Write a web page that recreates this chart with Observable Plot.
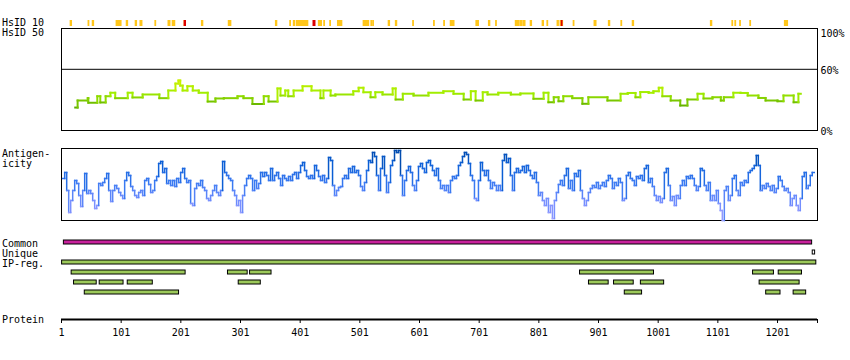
<!DOCTYPE html>
<html><head><meta charset="utf-8">
<script src="https://cdn.jsdelivr.net/npm/d3@7"></script>
<script src="https://cdn.jsdelivr.net/npm/@observablehq/plot@0.6"></script>
<style>
body{margin:0;background:#fff;}
#chart{position:relative;width:850px;height:360px;font-family:"DejaVu Sans Mono",monospace;font-size:10px;color:#000;}
.lbl{position:absolute;left:2px;line-height:9px;white-space:pre;}
</style></head>
<body><div id="chart"></div>
<script>
// ---------- data ----------
const proteinLength = 1268;
const axisTicks = [1,101,201,301,401,501,601,701,801,901,1001,1101,1201];

// HsID 10 hits (residue ranges)
const hsid10Hits = [[16,19],[46,48],[53,56],[93,102],[110,113],[125,128],[133,137],[158,160],[180,184],[187,192],[207,210],
  [236,239],[281,286],[360,363],[384,386],[390,393],[395,415],[432,438],[441,443],[451,453],[464,472],[507,517],[520,522],
  [523,525],[549,552],[561,564],[590,592],[625,627],[642,644],[653,660],[696,701],[717,720],[729,731],[762,769],[770,774],
  [775,779],[787,790],[807,810],[815,817],[832,835],[837,842],[859,861],[894,898],[918,921],[939,941],[958,961],
  [1089,1092],[1125,1127],[1130,1132],[1138,1140],[1155,1157],[1213,1219]];
const hsid10Strong = [[207,210],[423,427],[839,841]];

// HsID 50 identity (%) as steps: start residue -> value
const hsid50Pos = [24,28,45,46,61,66,75,83,91,112,120,137,165,180,192,197,200,204,212,221,231,246,259,273,296,306,321,340,348,
  363,368,376,381,390,405,420,435,440,452,460,490,499,507,519,527,539,556,561,573,591,616,641,658,675,687,695,707,715,733,
  754,770,792,809,817,826,834,842,857,874,884,916,938,950,963,971,985,993,1002,1008,1022,1038,1050,1067,1077,1092,1106,
  1111,1127,1139,1151,1169,1181,1201,1211,1228,1236];
const hsid50Val = [22.5,29.4,31.7,27.2,33.6,27.5,33.6,37,31.7,37,32.4,35.3,31.7,39.2,46,49,44,39.2,43.4,39.2,37,28.4,31.4,31.7,
  33.6,31.7,26,33.6,28.4,41.2,34.3,39.2,33.6,39.2,43.4,39.2,31.7,39.2,34.3,35.3,38.5,41.9,37.5,32.6,37.5,35.3,41.2,30.4,36,
  34.3,37,38.5,36,30.4,38.5,29.4,37.5,35.3,37,35.3,36.3,31.1,37,27.7,32.6,28.7,33.6,31.7,26.2,32.6,29.4,36,36.8,32.6,37.7,
  37,38.5,41.9,33.6,29.4,24.5,30.4,36,31.4,32.6,29.4,32.6,37,36.8,34.3,31.9,29.4,28.7,34.3,27.7,36];
const hsid50End = 1240;
const pctTicks = [60,0];
const pctTop = [100];

// Antigenicity profile, one value every antigenStep residues
const antigenStart = 3, antigenStep = 3.35;
const antigenVal = [
42,48,30,8,20,30,40,37,25,14, 30,47,27,30,27,20,12,15,37,35, 38,42,47,30,19,30,35,32,28,25,
22,40,48,45,34,30,25,23,28,30, 25,40,42,36,28,30,40,44,57,59, 48,52,37,40,35,40,34,42,38,48,
52,42,38,40,17,15,32,37,35,40, 33,30,22,20,25,30,35,28,25,30, 59,48,45,42,40,30,25,15,20,8,
25,35,42,45,42,30,40,32,37,48, 44,48,45,40,52,40,45,48,42,35, 45,42,40,44,40,46,48,42,48,55,
58,50,44,42,45,42,55,50,44,40, 45,38,42,63,60,35,25,30,33,34, 42,45,42,52,48,54,48,50,45,34,
30,38,50,60,58,68,64,45,30,52, 64,45,28,38,55,60,70,68,70,45, 25,40,50,54,48,35,30,40,54,57,
52,48,58,60,55,50,45,52,40,32, 35,30,35,28,40,44,42,45,55,58, 64,68,66,57,45,40,22,20,40,58,
50,45,50,40,32,38,35,30,35,30, 60,66,58,62,45,30,48,52,48,50, 54,48,55,50,45,42,48,38,25,28,
20,15,22,8,15,2,20,28,36,40, 35,45,52,32,40,30,47,44,50,30, 22,15,20,28,32,35,33,38,32,35,
38,34,40,45,42,32,38,35,42,38, 20,22,45,48,42,40,35,44,42,45, 40,52,55,38,42,34,25,20,24,18,
22,48,52,35,20,24,15,25,22,35, 40,35,44,42,45,42,35,30,34,52, 50,35,30,38,20,25,20,30,17,10,
0,30,34,20,25,42,45,30,25,38, 35,40,38,48,50,52,55,65,55,30, 35,32,37,34,30,35,28,32,44,40,
34,30,32,28,15,22,25,15,10,22, 44,48,32,35,45,48];

// Regions
const rowNames = ["Common","Unique","IP-reg.","r1","r2","r3"];
const commonRegion = [[5,1259]];
const uniqueRegion = [[1260,1264]];
const ipRegFull = [[2,1266]];
const ipRow1 = [[18,209],[280,313],[317,353],[870,994],[1160,1195],[1203,1242]];
const ipRow2 = [[22,60],[65,105],[112,154],[298,335],[885,918],[927,960],[972,1011],[1171,1238]];
const ipRow3 = [[40,198],[945,974],[1182,1206],[1228,1249]];

// ---------- drawing ----------
const W = 850, ML = 61, MR = 33;
const chart = document.getElementById("chart");
const baseStyle = {fontFamily: '"DejaVu Sans Mono", monospace', fontSize: "10px", background: "transparent", overflow: "visible"};
function place(node, top) { node.style.position = "absolute"; node.style.left = "0px"; node.style.top = top + "px"; chart.appendChild(node); }
function label(text, top) { const d = document.createElement("div"); d.className = "lbl"; d.textContent = text; d.style.top = top + "px"; chart.appendChild(d); }
function stepSegments(xs, vs, xEnd) {
  const segs = [];
  for (let i = 0; i < xs.length; i++) {
    const xn = i < xs.length - 1 ? xs[i + 1] : xEnd;
    segs.push({x1: xs[i], x2: xn, y1: vs[i], y2: vs[i], v: vs[i]});
    if (i < xs.length - 1) segs.push({x1: xn, x2: xn, y1: vs[i], y2: vs[i + 1], v: Math.max(vs[i], vs[i + 1])});
  }
  return segs;
}
const xScale = {domain: [1, proteinLength], axis: null};

// HsID 10 strip
place(Plot.plot({
  width: W, height: 6, marginLeft: ML, marginRight: MR, marginTop: 0, marginBottom: 0,
  x: xScale, style: baseStyle,
  marks: [
    Plot.barX(hsid10Hits, {x1: d => d[0] - 0.5, x2: d => d[1] + 0.5, fill: "#ffc61a"}),
    Plot.barX(hsid10Strong, {x1: d => d[0] - 0.5, x2: d => d[1] + 0.5, fill: "#dd0000"})
  ]
}), 19.5);

// HsID 50 panel
place(Plot.plot({
  width: W, height: 140, marginLeft: ML, marginRight: MR, marginTop: 28, marginBottom: 10,
  x: xScale, y: {domain: [0, 100], axis: null},
  color: {type: "linear", domain: [22, 30, 37, 49], range: ["#5aa800", "#7cc800", "#a2ee00", "#c8f000"]},
  style: baseStyle,
  marks: [
    Plot.frame({stroke: "black"}),
    Plot.ruleY([60], {stroke: "black"}),
    Plot.link(stepSegments(hsid50Pos, hsid50Val, hsid50End), {x1: "x1", x2: "x2", y1: "y1", y2: "y2", stroke: "v", strokeWidth: 2, strokeLinecap: "square"}),
    Plot.text(pctTicks, {y: d => d, text: d => d + "%", frameAnchor: "right", textAnchor: "start", dx: 3, dy: 1}),
    Plot.text(pctTop, {y: d => d, text: d => d + "%", frameAnchor: "right", textAnchor: "start", dx: 3, dy: 5})
  ]
}), 0);

// Antigenicity panel
const antigenPos = antigenVal.map((_, i) => antigenStart + i * antigenStep);
place(Plot.plot({
  width: W, height: 88, marginLeft: ML, marginRight: MR, marginTop: 8, marginBottom: 8,
  x: xScale, y: {domain: [0, 72], axis: null},
  color: {type: "linear", domain: [0, 20, 40, 60, 72], range: ["#a8a4ff", "#7a90ff", "#3a7af2", "#0a5ed4", "#0048a8"]},
  style: baseStyle,
  marks: [
    Plot.frame({stroke: "black"}),
    Plot.link(stepSegments(antigenPos, antigenVal, antigenPos[antigenPos.length - 1] + antigenStep), {x1: "x1", x2: "x2", y1: "y1", y2: "y2", stroke: "v", strokeWidth: 1.5, strokeLinecap: "square"})
  ]
}), 140);

// Regions
const regionRows = [];
commonRegion.forEach(r => regionRows.push({row: "Common", s: r[0], e: r[1], fill: "#c8219c"}));
uniqueRegion.forEach(r => regionRows.push({row: "Unique", s: r[0], e: r[1], fill: "#ffffff"}));
ipRegFull.forEach(r => regionRows.push({row: "IP-reg.", s: r[0], e: r[1], fill: "#9cc95a"}));
ipRow1.forEach(r => regionRows.push({row: "r1", s: r[0], e: r[1], fill: "#9cc95a"}));
ipRow2.forEach(r => regionRows.push({row: "r2", s: r[0], e: r[1], fill: "#9cc95a"}));
ipRow3.forEach(r => regionRows.push({row: "r3", s: r[0], e: r[1], fill: "#9cc95a"}));
place(Plot.plot({
  width: W, height: 72, marginLeft: ML, marginRight: MR, marginTop: 7, marginBottom: 5,
  x: xScale, y: {domain: rowNames, axis: null, paddingInner: 0.6, paddingOuter: 0.3},
  color: {type: "identity"},
  style: baseStyle,
  marks: [Plot.barX(regionRows, {x1: "s", x2: "e", y: "row", fill: "fill", stroke: "black", strokeWidth: 1})]
}), 230);

// Protein axis
place(Plot.plot({
  width: W, height: 40, marginLeft: ML, marginRight: MR, marginTop: 18, marginBottom: 21,
  x: {domain: [1, proteinLength]}, y: {domain: [0, 1], axis: null},
  style: baseStyle,
  marks: [
    Plot.ruleY([0], {strokeWidth: 2}),
    Plot.axisX({ticks: [...axisTicks, proteinLength], tickSize: 4, tickPadding: 5, label: null,
      tickFormat: d => axisTicks.includes(d) ? String(d) : ""})
  ]
}), 300);

// Left labels
label("HsID 10", 18);
label("HsID 50", 28);
label("Antigen-", 149);
label("icity", 158.5);
label("Common", 239);
label("Unique", 249);
label("IP-reg.", 259);
label("Protein", 315);
</script></body></html>
